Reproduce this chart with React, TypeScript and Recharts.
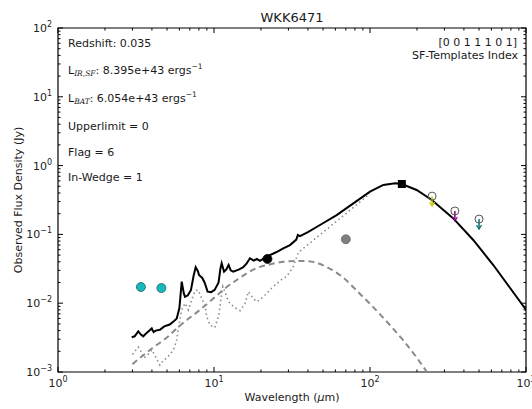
import React from 'react';
import { ComposedChart, Line, Scatter, XAxis, YAxis, ReferenceArea } from 'recharts';

// ---------- data (wavelength in micron, flux density in Jy) ----------
const totalModel: [number, number][] = [
  [2.97, 0.0032], [3.1, 0.0033], [3.27, 0.0039], [3.4, 0.0035], [3.52, 0.0033],
  [3.7, 0.0037], [3.99, 0.0043], [4.1, 0.0038], [4.23, 0.004], [4.5, 0.0041],
  [4.8, 0.0046], [5.2, 0.0049], [5.5, 0.0054], [5.77, 0.006], [6.0, 0.0085],
  [6.21, 0.0206], [6.4, 0.014], [6.52, 0.0124], [6.8, 0.013], [7.12, 0.0156],
  [7.4, 0.025], [7.63, 0.0333], [7.9, 0.029], [8.01, 0.0257], [8.41, 0.0233],
  [8.7, 0.02], [9.1, 0.0147], [9.6, 0.0145], [10.1, 0.0156], [10.7, 0.02],
  [11.0, 0.032], [11.2, 0.038], [11.6, 0.0287], [12.0, 0.031], [12.4, 0.0359],
  [12.8, 0.03], [13.3, 0.0287], [14.5, 0.031], [15.4, 0.0333], [16.2, 0.038],
  [17.0, 0.0449], [18.0, 0.0415], [18.8, 0.044], [19.7, 0.0412], [21.8, 0.0474],
  [25, 0.055], [28, 0.063], [30.7, 0.07], [33.7, 0.0841], [34.5, 0.098],
  [35.6, 0.0947], [40, 0.108], [47.8, 0.137], [61.1, 0.191], [78.2, 0.283],
  [100, 0.418], [121.7, 0.523], [145, 0.552], [160, 0.54], [199, 0.442],
  [249, 0.316], [342, 0.171], [459, 0.083], [617, 0.0359], [986, 0.0084],
  [1000, 0.0079],
];

const agnComponent: [number, number][] = [
  [3.0, 0.0013], [4.0, 0.0022], [5.1, 0.0033], [5.9, 0.0045], [6.7, 0.0057],
  [7.55, 0.007], [9.6, 0.011], [11.8, 0.0165], [14.3, 0.0225], [18.5, 0.032],
  [22.9, 0.0367], [28, 0.04], [34, 0.0412], [42.3, 0.0402], [52.8, 0.0335],
  [66, 0.0245], [84, 0.0145], [100, 0.0098], [130, 0.0052], [163, 0.0029],
  [200, 0.0016], [225, 0.0011], [235, 0.00095],
];

const sfTemplate: [number, number][] = [
  [3.0, 0.0018], [3.27, 0.0023], [3.44, 0.0019], [3.52, 0.0016], [3.7, 0.0017],
  [4.0, 0.0021], [4.2, 0.0017], [4.5, 0.00126], [4.75, 0.0015], [5.0, 0.0016],
  [5.5, 0.0021], [5.77, 0.0029], [5.9, 0.0042], [6.21, 0.008], [6.52, 0.01],
  [6.85, 0.008], [7.18, 0.0111], [7.55, 0.015], [7.9, 0.0156], [8.34, 0.0118],
  [8.76, 0.0093], [8.98, 0.0064], [9.43, 0.0048], [10.1, 0.0044], [10.7, 0.0064],
  [11.2, 0.0139], [11.4, 0.0175], [12.4, 0.0105], [13.0, 0.0094], [13.7, 0.0085],
  [14.7, 0.0078], [15.8, 0.0099], [16.6, 0.0147], [17.8, 0.0118], [18.8, 0.0105],
  [20.2, 0.0118], [21.8, 0.0139], [24, 0.0175], [27.8, 0.023], [29.2, 0.0243],
  [32.2, 0.034], [34.7, 0.0546], [47.8, 0.0987], [69, 0.195], [94.5, 0.353],
  [100, 0.39],
];

const irPhotometry: [number, number][] = [[3.4, 0.0172], [4.6, 0.0166]];
const midIrPoint: [number, number][] = [[22, 0.044]];
const farIrPoint: [number, number][] = [[70, 0.085]];
const peakPoint: [number, number][] = [[160, 0.54]];
const upperLimit250: [number, number][] = [[250, 0.36]];
const upperLimit350: [number, number][] = [[350, 0.219]];
const upperLimit500: [number, number][] = [[500, 0.167]];

const xMajorTicks = [1, 10, 100, 1000];
const xMajorLabels = ['0', '1', '2', '3'];
const xMinorTicks = [2, 3, 4, 5, 6, 7, 8, 9, 20, 30, 40, 50, 60, 70, 80, 90, 200, 300, 400, 500, 600, 700, 800, 900];
const yMajorTicks = [0.001, 0.01, 0.1, 1, 10, 100];
const yMajorLabels = ['\u22123', '\u22122', '\u22121', '0', '1', '2'];
const yMinorTicks = [
  0.002, 0.003, 0.004, 0.005, 0.006, 0.007, 0.008, 0.009,
  0.02, 0.03, 0.04, 0.05, 0.06, 0.07, 0.08, 0.09,
  0.2, 0.3, 0.4, 0.5, 0.6, 0.7, 0.8, 0.9,
  2, 3, 4, 5, 6, 7, 8, 9,
  20, 30, 40, 50, 60, 70, 80, 90,
];

const toPts = (arr: [number, number][]) => arr.map(([x, y]) => ({ x, y }));

// ---------- layout ----------
const W = 532;
const H = 409;
const MARGIN = { top: 28, right: 6, left: 8, bottom: 7 };
const Y_AXIS_W = 50;
const X_AXIS_H = 30;
const PLOT_W = W - MARGIN.left - Y_AXIS_W - MARGIN.right;
const PLOT_H = H - MARGIN.top - MARGIN.bottom - X_AXIS_H;
const FONT = 'DejaVu Sans, Verdana, sans-serif';

const XTick = (props: any) => {
  const { x, y, payload } = props;
  const idx = xMajorTicks.indexOf(payload.value);
  const major = idx >= 0;
  const len = major ? 5 : 2.5;
  return (
    <g>
      <line x1={x} x2={x} y1={y} y2={y - len} stroke="#000" strokeWidth={1} />
      <line x1={x} x2={x} y1={y - PLOT_H} y2={y - PLOT_H + len} stroke="#000" strokeWidth={1} />
      {major && (
        <text x={x} y={y + 15} textAnchor="middle" fontSize={11} fontFamily={FONT} fill="#222">
          10<tspan dy={-5} fontSize={8}>{xMajorLabels[idx]}</tspan>
        </text>
      )}
    </g>
  );
};

const YTick = (props: any) => {
  const { x, y, payload } = props;
  const idx = yMajorTicks.indexOf(payload.value);
  const major = idx >= 0;
  const len = major ? 5 : 2.5;
  return (
    <g>
      <line x1={x} x2={x + len} y1={y} y2={y} stroke="#000" strokeWidth={1} />
      <line x1={x + PLOT_W} x2={x + PLOT_W - len} y1={y} y2={y} stroke="#000" strokeWidth={1} />
      {major && (
        <text x={x - 6} y={y + 4} textAnchor="end" fontSize={11} fontFamily={FONT} fill="#222">
          10<tspan dy={-5} fontSize={8}>{yMajorLabels[idx]}</tspan>
        </text>
      )}
    </g>
  );
};

const dotShape = (fill: string, stroke: string, r: number) => (p: any) => (
  <circle cx={p.cx} cy={p.cy} r={r} fill={fill} stroke={stroke} strokeWidth={0.8} />
);

const squareShape = (p: any) => (
  <rect x={p.cx - 4} y={p.cy - 4} width={8} height={8} fill="#000" />
);

const upperLimitShape = (color: string) => (p: any) => {
  const { cx, cy } = p;
  return (
    <g>
      <line x1={cx} x2={cx} y1={cy} y2={cy + 9} stroke={color} strokeWidth={1.5} />
      <path d={`M${cx - 2.5},${cy + 6} L${cx},${cy + 10} L${cx + 2.5},${cy + 6}`} fill="none" stroke={color} strokeWidth={1.2} />
      <circle cx={cx} cy={cy} r={4} fill="none" stroke="#555" strokeWidth={1} />
    </g>
  );
};

export default function App() {
  const textStyle = { fontFamily: FONT, fill: '#1a1a1a' } as any;
  return (
    <div style={{ position: 'absolute', left: 0, top: 0, width: W, height: H, background: '#fff' }}>
      <ComposedChart width={W} height={H} margin={MARGIN}>
        <XAxis
          dataKey="x"
          type="number"
          scale="log"
          domain={[1, 1000]}
          allowDataOverflow
          ticks={[...xMajorTicks, ...xMinorTicks]}
          interval={0}
          tick={<XTick />}
          tickLine={false}
          axisLine={false}
          tickSize={0}
          tickMargin={0}
          height={X_AXIS_H}
        />
        <YAxis
          dataKey="y"
          type="number"
          scale="log"
          domain={[0.001, 100]}
          allowDataOverflow
          ticks={[...yMajorTicks, ...yMinorTicks]}
          interval={0}
          tick={<YTick />}
          tickLine={false}
          axisLine={false}
          tickSize={0}
          tickMargin={0}
          width={Y_AXIS_W}
        />
        <ReferenceArea x1={1} x2={1000} y1={0.001} y2={100} fill="none" stroke="#000" strokeWidth={1.2} ifOverflow="visible" />
        <Line data={toPts(sfTemplate)} dataKey="y" type="linear" stroke="#8c8c8c" strokeWidth={1.6} strokeDasharray="1.5 3" dot={false} isAnimationActive={false} />
        <Line data={toPts(agnComponent)} dataKey="y" type="monotone" stroke="#8a8a8a" strokeWidth={2} strokeDasharray="6 4" dot={false} isAnimationActive={false} />
        <Line data={toPts(totalModel)} dataKey="y" type="linear" stroke="#000" strokeWidth={2} dot={false} isAnimationActive={false} />
        <Scatter data={toPts(irPhotometry)} shape={dotShape('#17b9bd', '#2b5e60', 4.5)} isAnimationActive={false} />
        <Scatter data={toPts(midIrPoint)} shape={dotShape('#000', '#000', 4.5)} isAnimationActive={false} />
        <Scatter data={toPts(farIrPoint)} shape={dotShape('#7f7f7f', '#6a6a6a', 4.5)} isAnimationActive={false} />
        <Scatter data={toPts(peakPoint)} shape={squareShape} isAnimationActive={false} />
        <Scatter data={toPts(upperLimit250)} shape={upperLimitShape('#c8c800')} isAnimationActive={false} />
        <Scatter data={toPts(upperLimit350)} shape={upperLimitShape('#800080')} isAnimationActive={false} />
        <Scatter data={toPts(upperLimit500)} shape={upperLimitShape('#0a7070')} isAnimationActive={false} />
      </ComposedChart>
      <svg width={W} height={H} style={{ position: 'absolute', left: 0, top: 0, pointerEvents: 'none' }}>
        <text x={292} y={22} textAnchor="middle" fontSize={13} {...textStyle}>WKK6471</text>
        <text x={68} y={47} fontSize={11} {...textStyle}>Redshift: 0.035</text>
        <text x={68} y={74} fontSize={11} {...textStyle}>
          L<tspan dy={2} fontSize={7.5} fontStyle="italic" fontFamily="DejaVu Serif, serif">IR,SF</tspan>
          <tspan dy={-2}>: 8.395e+43 ergs</tspan>
          <tspan dy={-5} fontSize={7.5}>{'\u22121'}</tspan>
        </text>
        <text x={68} y={102} fontSize={11} {...textStyle}>
          L<tspan dy={2} fontSize={7.5} fontStyle="italic" fontFamily="DejaVu Serif, serif">BAT</tspan>
          <tspan dy={-2}>: 6.054e+43 ergs</tspan>
          <tspan dy={-5} fontSize={7.5}>{'\u22121'}</tspan>
        </text>
        <text x={68} y={130} fontSize={11} {...textStyle}>Upperlimit = 0</text>
        <text x={68} y={156} fontSize={11} {...textStyle}>Flag = 6</text>
        <text x={68} y={181} fontSize={11} {...textStyle}>In-Wedge = 1</text>
        <text x={517} y={46} textAnchor="end" fontSize={11} {...textStyle}>[0 0 1 1 1 0 1]</text>
        <text x={518} y={58.5} textAnchor="end" fontSize={11} {...textStyle}>SF-Templates Index</text>
        <text x={292} y={401} textAnchor="middle" fontSize={11} {...textStyle}>
          Wavelength (<tspan fontStyle="italic">μ</tspan>m)
        </text>
        <text x={22} y={200} textAnchor="middle" fontSize={11} transform="rotate(-90 22 200)" {...textStyle}>
          Observed Flux Density (Jy)
        </text>
      </svg>
    </div>
  );
}
